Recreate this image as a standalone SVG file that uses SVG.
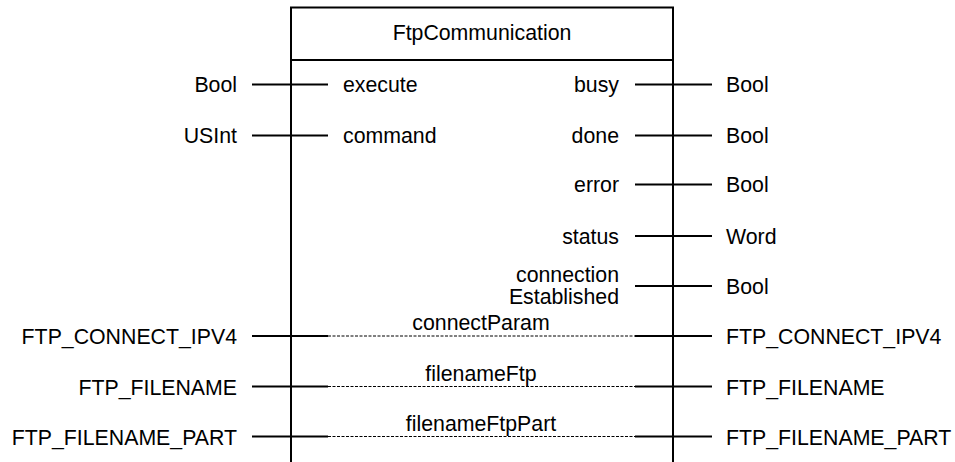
<svg xmlns="http://www.w3.org/2000/svg" width="955" height="462" viewBox="0 0 955 462">
  <style>
    .t { font-family: "Liberation Sans", Arial, sans-serif; font-size: 21.3px; fill: #000; }
    .r { text-anchor: end; }
    .m { text-anchor: middle; }
    .pin { stroke: #000; stroke-width: 2; fill: none; }
    .frame { stroke: #000; stroke-width: 2; fill: #fff; }
    .dash { stroke: #000; stroke-width: 1; stroke-dasharray: 3 1.5; fill: none; }
  </style>

  <!-- function block body (open at the bottom) -->
  <g id="block">
    <path class="frame" d="M291 463 V7.5 H673 V463"/>
    <line class="pin" x1="291" y1="60" x2="673" y2="60"/>
    <text class="t m" x="482" y="40">FtpCommunication</text>
  </g>

  <!-- pin wires -->
  <g id="connectors">
    <!-- inputs -->
    <line class="pin" x1="252" y1="84.5" x2="328" y2="84.5"/>
    <line class="pin" x1="252" y1="135.5" x2="328" y2="135.5"/>
    <!-- outputs -->
    <line class="pin" x1="635" y1="84.5" x2="712" y2="84.5"/>
    <line class="pin" x1="635" y1="135.5" x2="712" y2="135.5"/>
    <line class="pin" x1="635" y1="184.5" x2="712" y2="184.5"/>
    <line class="pin" x1="635" y1="236" x2="712" y2="236"/>
    <line class="pin" x1="635" y1="286" x2="712" y2="286"/>
    <!-- in/out parameters -->
    <line class="pin" x1="252" y1="336" x2="328" y2="336"/>
    <line class="dash" x1="328" y1="336" x2="635" y2="336"/>
    <line class="pin" x1="635" y1="336" x2="712" y2="336"/>
    <line class="pin" x1="252" y1="386.5" x2="328" y2="386.5"/>
    <line class="dash" x1="328" y1="386.5" x2="635" y2="386.5"/>
    <line class="pin" x1="635" y1="386.5" x2="712" y2="386.5"/>
    <line class="pin" x1="252" y1="436.5" x2="328" y2="436.5"/>
    <line class="dash" x1="328" y1="436.5" x2="635" y2="436.5"/>
    <line class="pin" x1="635" y1="436.5" x2="712" y2="436.5"/>
  </g>

  <!-- input pins -->
  <g id="in-execute">
    <text class="t r" x="237" y="92">Bool</text>
    <text class="t" x="343" y="92">execute</text>
  </g>
  <g id="in-command">
    <text class="t r" x="237" y="143">USInt</text>
    <text class="t" x="343" y="143">command</text>
  </g>

  <!-- output pins -->
  <g id="out-busy">
    <text class="t r" x="619" y="92">busy</text>
    <text class="t" x="726" y="92">Bool</text>
  </g>
  <g id="out-done">
    <text class="t r" x="619" y="143">done</text>
    <text class="t" x="726" y="143">Bool</text>
  </g>
  <g id="out-error">
    <text class="t r" x="619" y="192">error</text>
    <text class="t" x="726" y="192">Bool</text>
  </g>
  <g id="out-status">
    <text class="t r" x="619" y="243.5">status</text>
    <text class="t" x="726" y="243.5">Word</text>
  </g>
  <g id="out-connectionEstablished">
    <text class="t r" x="619" y="282">connection</text>
    <text class="t r" x="619" y="304">Established</text>
    <text class="t" x="726" y="293.5">Bool</text>
  </g>

  <!-- in/out pins -->
  <g id="inout-connectParam">
    <text class="t r" x="237" y="344">FTP_CONNECT_IPV4</text>
    <text class="t m" x="481" y="330">connectParam</text>
    <text class="t" x="726" y="344">FTP_CONNECT_IPV4</text>
  </g>
  <g id="inout-filenameFtp">
    <text class="t r" x="237" y="394.5">FTP_FILENAME</text>
    <text class="t m" x="481" y="380.5">filenameFtp</text>
    <text class="t" x="726" y="394.5">FTP_FILENAME</text>
  </g>
  <g id="inout-filenameFtpPart">
    <text class="t r" x="237" y="444.5">FTP_FILENAME_PART</text>
    <text class="t m" x="481" y="430.5">filenameFtpPart</text>
    <text class="t" x="726" y="444.5">FTP_FILENAME_PART</text>
  </g>
</svg>
